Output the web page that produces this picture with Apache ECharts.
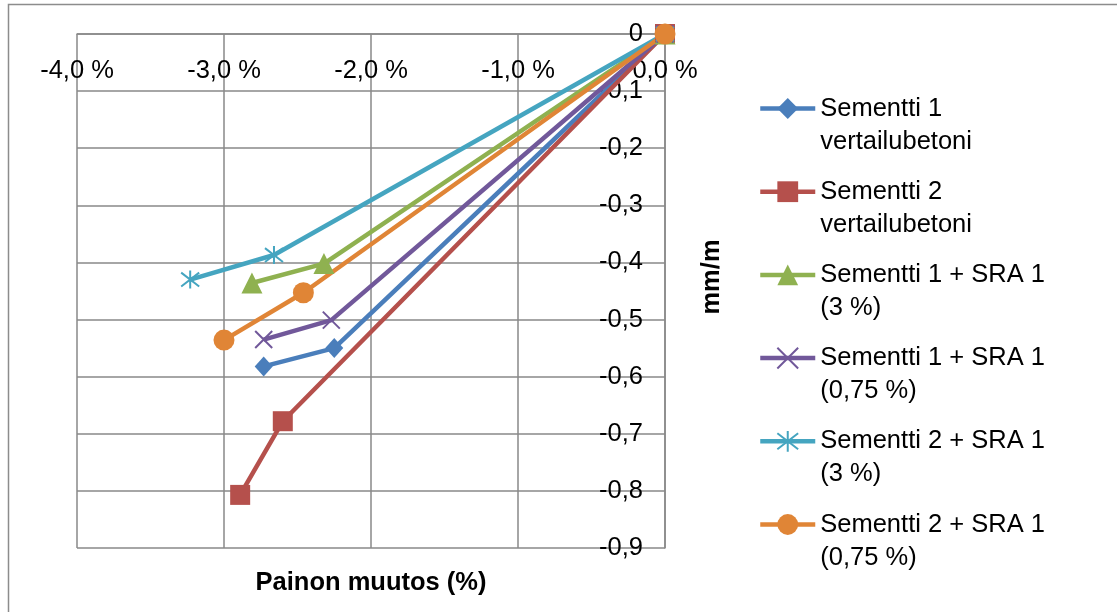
<!DOCTYPE html>
<html>
<head>
<meta charset="utf-8">
<script src="https://cdn.jsdelivr.net/npm/echarts@6/dist/echarts.min.js"></script>
<style>
html,body{margin:0;padding:0;background:#fff;}
#chart{width:1117px;height:612px;}
</style>
</head>
<body>
<div id="chart"></div>
<script>
// ---- data ----
const seriesNames = [
  'Sementti 1\nvertailubetoni',
  'Sementti 2\nvertailubetoni',
  'Sementti 1 + SRA 1\n(3 %)',
  'Sementti 1 + SRA 1\n(0,75 %)',
  'Sementti 2 + SRA 1\n(3 %)',
  'Sementti 2 + SRA 1\n(0,75 %)'
];
// x = painon muutos (%), y = mm/m
const s1Ref   = [[0, 0], [-2.25, -0.550], [-2.73, -0.582]];
const s2Ref   = [[0, 0], [-2.60, -0.678], [-2.89, -0.807]];
const s1Sra3  = [[0, 0], [-2.32, -0.402], [-2.81, -0.436]];
const s1Sra075= [[0, 0], [-2.27, -0.501], [-2.73, -0.535]];
const s2Sra3  = [[0, 0], [-2.66, -0.387], [-3.23, -0.430]];
const s2Sra075= [[0, 0], [-2.46, -0.453], [-3.00, -0.536]];
const xTickValues = [-4, -3, -2, -1, 0];
const xTickLabels = ['-4,0 %', '-3,0 %', '-2,0 %', '-1,0 %', '0,0 %'];
const yTickValues = [0, -0.1, -0.2, -0.3, -0.4, -0.5, -0.6, -0.7, -0.8, -0.9];
const yTickLabels = ['0', '-0,1', '-0,2', '-0,3', '-0,4', '-0,5', '-0,6', '-0,7', '-0,8', '-0,9'];

// ---- styling ----
const FONT = '"Liberation Sans", Arial, sans-serif';
const GRID = '#898989';
const colors = ['#4A7EBB', '#B5504C', '#8FB150', '#71589A', '#45A5C0', '#E08536'];
const seriesData = [s1Ref, s2Ref, s1Sra3, s1Sra075, s2Sra3, s2Sra075];
const symbols = [
  {symbol: 'diamond', size: [18, 20], border: 0},
  {symbol: 'rect', size: 20, border: 0},
  {symbol: 'triangle', size: 21, border: 0},
  {symbol: 'path://M0,0L10,10M10,0L0,10', size: 17, border: 2},
  {symbol: 'path://M0,0L10,10M10,0L0,10M5,-1.5L5,11.5', size: 18, border: 2},
  {symbol: 'circle', size: 21, border: 0}
];

function lookup(values, labels, v) {
  for (let i = 0; i < values.length; i++) {
    if (Math.abs(values[i] - v) < 1e-6) return labels[i];
  }
  return '';
}

const chart = echarts.init(document.getElementById('chart'), null, {renderer: 'canvas'});
const LH = 33;
const option = {
  animation: false,
  backgroundColor: '#ffffff',
  textStyle: {fontFamily: FONT},
  title: {
    text: 'Painon muutos (%)',
    left: 371, top: 570,
    textAlign: 'center',
    padding: 0,
    textStyle: {fontFamily: FONT, fontSize: 25.5, fontWeight: 'bold', color: '#000'}
  },
  graphic: [
    {type: 'rect', silent: true, z: -10,
     shape: {x: 8.5, y: 4.5, width: 1200, height: 700},
     style: {fill: 'none', stroke: '#8c8c8c', lineWidth: 1.5}},
    {type: 'text', silent: true, x: 712, y: 277, rotation: Math.PI / 2,
     style: {text: 'mm/m', fontFamily: FONT, fontSize: 25.5, fontWeight: 'bold', fill: '#000',
             align: 'center', verticalAlign: 'middle'}}
  ],
  grid: {left: 77, right: 452, top: 34, bottom: 64, containLabel: false},
  legend: {
    orient: 'vertical',
    left: 758, top: 59, padding: 0,
    itemWidth: 55, itemHeight: 26, itemGap: -15.8,
    data: seriesNames,
    formatter: name => '\n' + name,
    lineStyle: {width: 4.5},
    textStyle: {fontFamily: FONT, fontSize: 25.5, color: '#000', lineHeight: LH},
    selectedMode: false
  },
  xAxis: {
    type: 'value', position: 'top', min: -4, max: 0, interval: 1,
    axisLine: {show: true, onZero: false, lineStyle: {color: GRID, width: 1.5}},
    axisTick: {show: false},
    splitLine: {show: true, lineStyle: {color: GRID, width: 1.5}},
    axisLabel: {inside: true, margin: 24, color: '#000', fontFamily: FONT, fontSize: 25.5,
                showMinLabel: true, showMaxLabel: true,
                formatter: v => lookup(xTickValues, xTickLabels, v)}
  },
  yAxis: {
    type: 'value', position: 'right', min: -0.9, max: 0, interval: 0.1,
    axisLine: {show: true, onZero: false, lineStyle: {color: GRID, width: 1.5}},
    axisTick: {show: false},
    splitLine: {show: true, lineStyle: {color: GRID, width: 1.5}},
    axisLabel: {inside: true, margin: 22, color: '#000', fontFamily: FONT, fontSize: 25.5,
                showMinLabel: true, showMaxLabel: true,
                formatter: v => lookup(yTickValues, yTickLabels, v)}
  },
  series: seriesNames.map((name, i) => ({
    name: name,
    type: 'line',
    data: seriesData[i],
    symbol: symbols[i].symbol,
    symbolSize: symbols[i].size,
    showAllSymbol: true,
    clip: false,
    lineStyle: {color: colors[i], width: 4.5},
    itemStyle: {color: colors[i], borderColor: colors[i], borderWidth: symbols[i].border, opacity: 1},
    emphasis: {disabled: true}
  }))
};
chart.setOption(option);
</script>
</body>
</html>
